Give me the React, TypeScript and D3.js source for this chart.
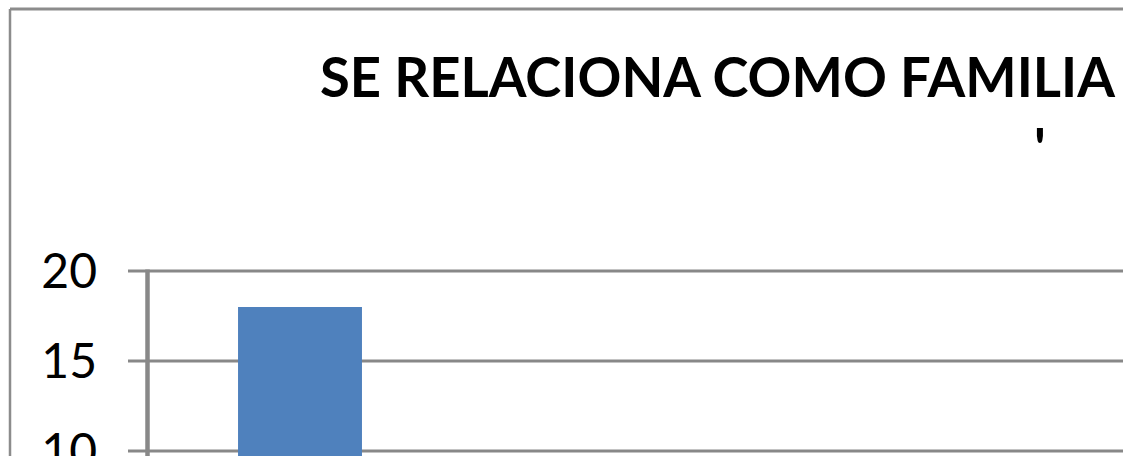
import React from "react";
import * as d3 from "d3";

const TITLE = "SE RELACIONA COMO FAMILIA";
const SUBTITLE_MARK = "'";
const categories = ["Sí"];
const values = [18];
const yTicks = [0, 5, 10, 15, 20];

const W = 1132;
const H = 456;

export default function App() {
  const y = d3.scaleLinear().domain([0, 20]).range([631, 271]);
  const x = d3
    .scaleBand<string>()
    .domain(categories)
    .range([147, 453])
    .paddingInner(0.595)
    .paddingOuter(0.2975);
  const axisX = 147.5;
  const gridRight = 1123;
  const gray = "#888888";

  return (
    <svg
      width={W}
      height={H}
      style={{ position: "absolute", left: 0, top: 0, display: "block" }}
    >
      <rect x={0} y={0} width={W} height={H} fill="#ffffff" />
      {/* frame */}
      <line x1={10} y1={9} x2={gridRight} y2={9} stroke="#8c8c8c" strokeWidth={3} />
      <line x1={10} y1={9} x2={10} y2={H} stroke="#8c8c8c" strokeWidth={2.5} />
      {/* title */}
      <text
        x={320}
        y={97}
        fontFamily="Lato, 'Liberation Sans', sans-serif"
        fontWeight={700}
        fontSize={56}
        textLength={795}
        lengthAdjust="spacingAndGlyphs"
        fill="#000"
      >
        {TITLE}
      </text>
      <text
        x={1040}
        y={168}
        textAnchor="middle"
        fontFamily="Lato, 'Liberation Sans', sans-serif"
        fontWeight={700}
        fontSize={56}
        fill="#000"
      >
        {SUBTITLE_MARK}
      </text>
      {/* gridlines & ticks */}
      {yTicks.map((t) => (
        <g key={t}>
          <line x1={128} x2={gridRight} y1={y(t)} y2={y(t)} stroke={gray} strokeWidth={3} />
          <text
            x={97}
            y={y(t) + 17}
            textAnchor="end"
            fontFamily="Lato, 'Liberation Sans', sans-serif"
            fontSize={48}
            fill="#000"
          >
            {t}
          </text>
        </g>
      ))}
      {/* bars */}
      {categories.map((c, i) => (
        <rect
          key={c}
          x={x(c)}
          y={y(values[i])}
          width={x.bandwidth()}
          height={y(0) - y(values[i])}
          fill="#4f81bd"
        />
      ))}
      {/* y axis */}
      <line x1={axisX} x2={axisX} y1={y(20) - 1.5} y2={y(0)} stroke={gray} strokeWidth={4.5} />
    </svg>
  );
}
